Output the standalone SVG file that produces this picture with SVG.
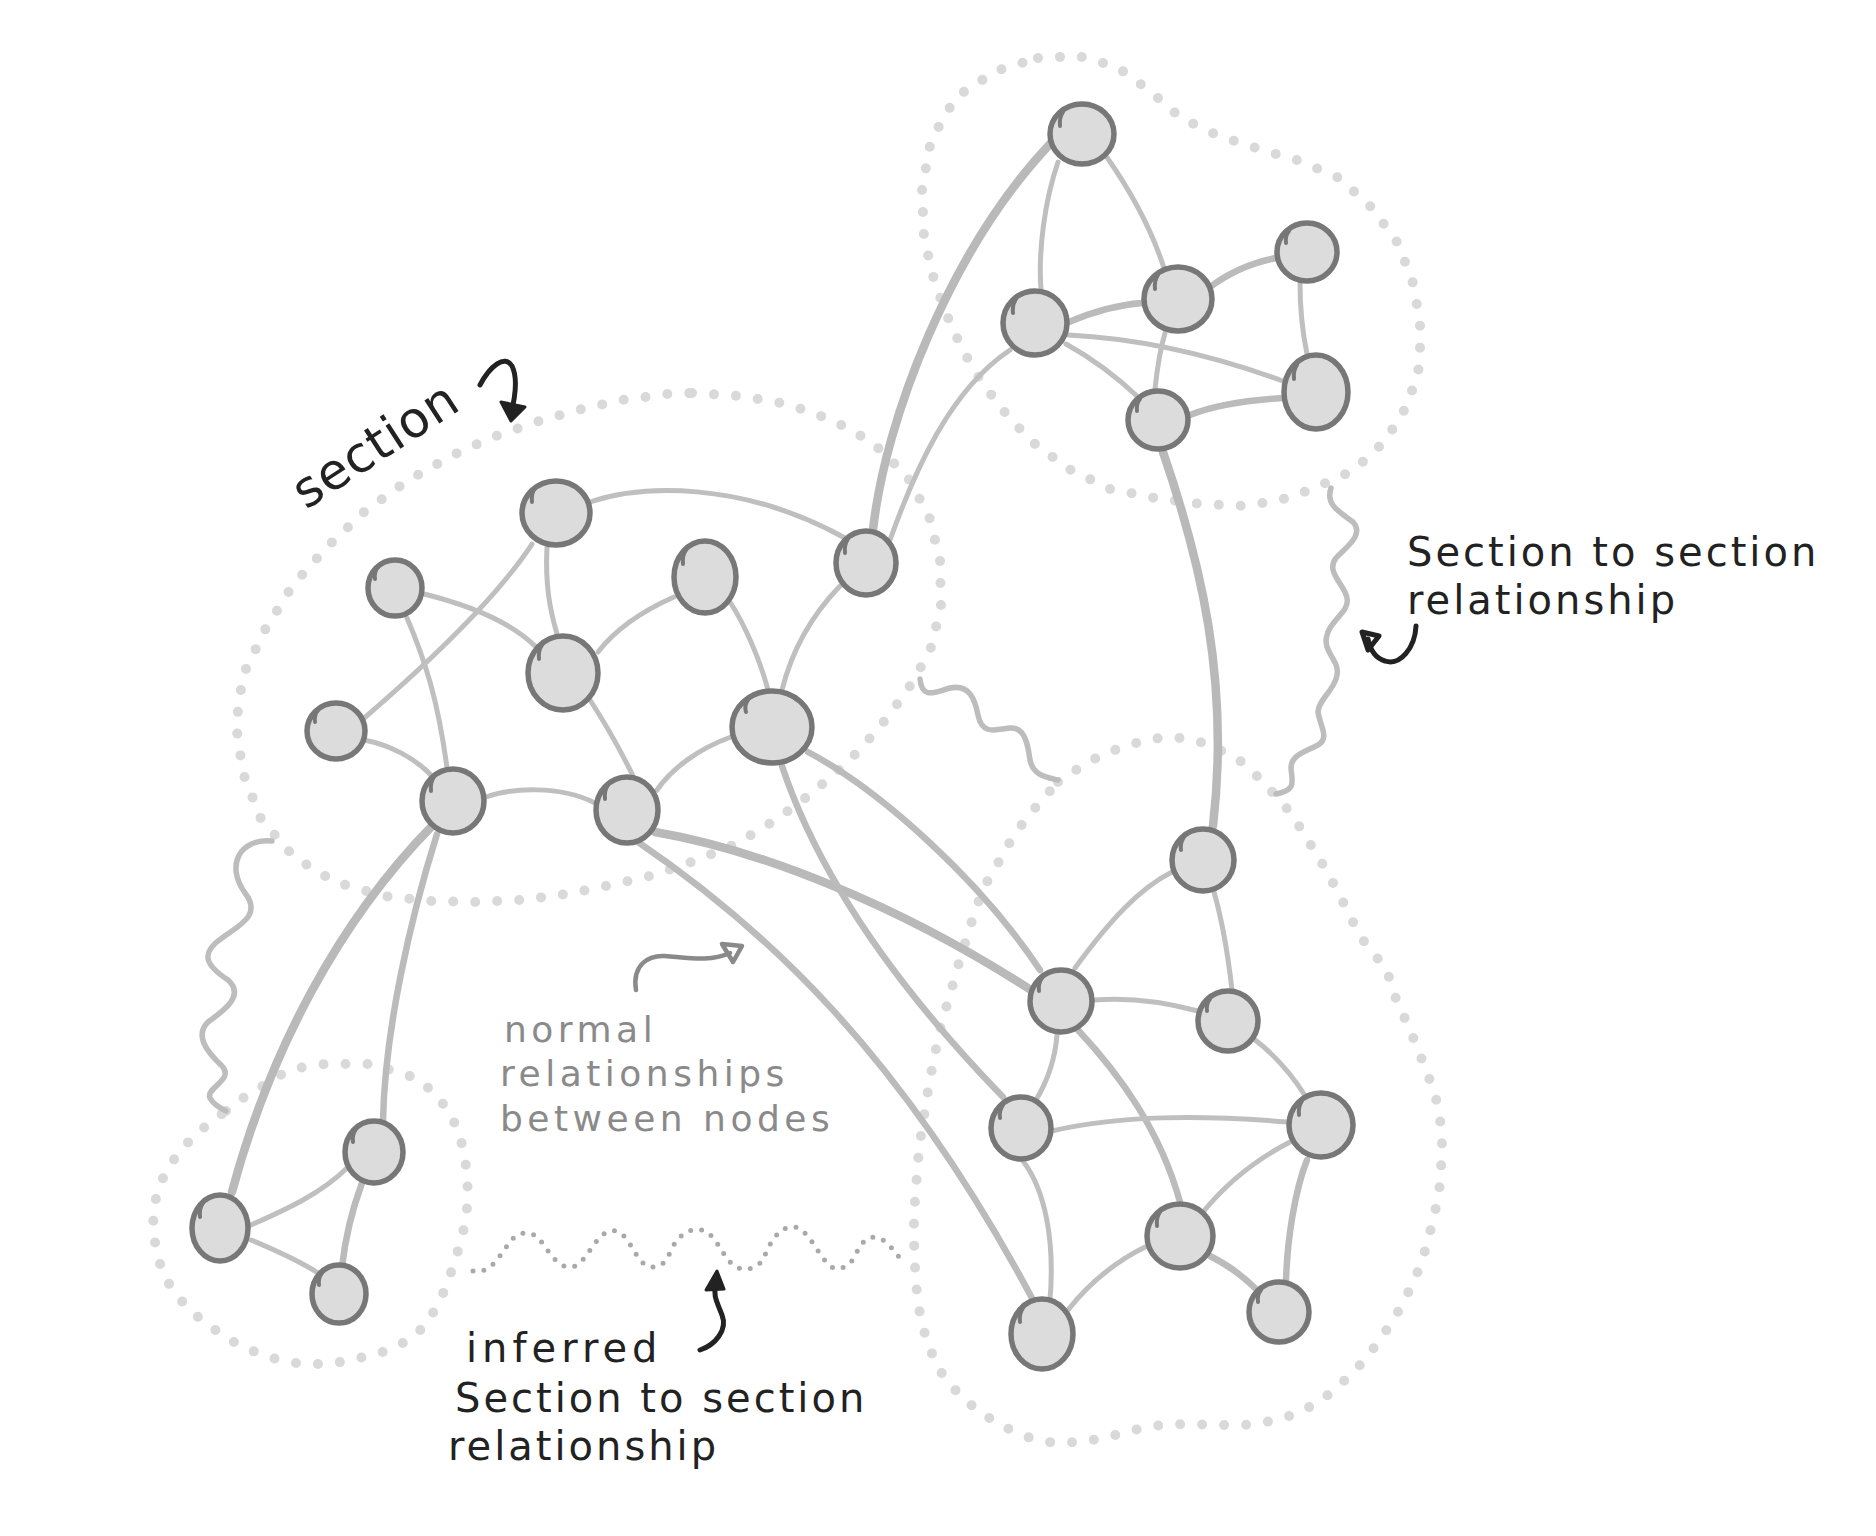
<svg xmlns="http://www.w3.org/2000/svg" width="1876" height="1536" viewBox="0 0 1876 1536">
<style>
.sec{fill:none;stroke:#d9d9d9;stroke-width:10;stroke-linecap:round;stroke-linejoin:round;stroke-dasharray:0 22}
.inf{fill:none;stroke:#a9a9a9;stroke-width:5;stroke-linecap:round;stroke-dasharray:0 11}
.wave{fill:none;stroke:#bdbdbd;stroke-width:5.5;stroke-linecap:round}
.e{fill:none;stroke:#bfbfbf;stroke-width:5;stroke-linecap:round}
.e2{fill:none;stroke:#bbbbbb;stroke-width:6.5;stroke-linecap:round}
.e3{fill:none;stroke:#b9b9b9;stroke-width:8.5;stroke-linecap:round}
.n ellipse{fill:#dcdcdc;stroke:#777777;stroke-width:5.5}
.n path{fill:none;stroke:#777777;stroke-width:4;stroke-linecap:round}
.lbl{font-family:"DejaVu Sans",sans-serif;fill:#222222}
.gl{font-family:"DejaVu Sans",sans-serif;fill:#8a8a8a;letter-spacing:4.5px}
.ar{fill:none;stroke:#222222;stroke-width:5;stroke-linecap:round;stroke-linejoin:round}
.ag{fill:none;stroke:#8a8a8a;stroke-width:4.5;stroke-linecap:round;stroke-linejoin:round}
</style>
<rect width="1876" height="1536" fill="#ffffff"/>

<g id="sections">
<polygon id="section-main" class="sec" points="692,393 740,396 787,404 832,420 872,442 907,476 929,516 940,560 941,607 930,651 907,691 879,728 848,762 812,793 777,819 738,843 697,860 654,875 611,885 567,894 521,900 475,902 430,901 384,896 335,882 294,857 261,819 243,773 236,725 243,675 266,628 293,585 327,547 364,512 407,481 453,455 493,437 536,422 578,410 622,400 668,394"/>
<polygon id="section-top" class="sec" points="1038,58 1078,56 1117,67 1150,91 1181,118 1219,136 1259,149 1300,161 1339,178 1370,206 1396,240 1412,279 1420,321 1420,364 1408,404 1385,441 1354,470 1333,480 1292,497 1248,506 1201,504 1155,498 1110,489 1069,469 1031,441 1000,407 973,369 952,328 935,284 924,238 922,189 931,140 956,97 996,71"/>
<polygon id="section-right" class="sec" points="1058,782 1079,768 1101,755 1126,746 1150,739 1174,737 1198,741 1222,751 1242,762 1259,778 1275,795 1289,811 1301,829 1312,847 1323,865 1333,883 1342,900 1351,918 1360,936 1372,952 1386,968 1397,1002 1407,1023 1417,1047 1426,1070 1435,1094 1440,1118 1442,1144 1441,1169 1439,1194 1433,1220 1427,1245 1418,1271 1407,1295 1394,1319 1379,1341 1363,1362 1344,1381 1323,1399 1299,1413 1272,1421 1245,1425 1217,1425 1189,1424 1161,1425 1134,1430 1108,1437 1081,1442 1054,1443 1027,1437 1002,1426 978,1411 957,1392 940,1371 929,1347 921,1321 917,1294 915,1267 914,1241 914,1214 916,1187 918,1161 921,1135 925,1110 929,1084 934,1059 939,1033 946,1008 953,984 960,959 968,934 975,911 984,887 997,865 1010,842 1025,820 1041,801"/>
<polygon id="section-left" class="sec" points="226,1111 243,1098 263,1086 282,1074 303,1067 326,1064 347,1064 368,1064 398,1072 418,1079 434,1093 448,1110 458,1130 464,1152 467,1174 468,1196 466,1219 461,1241 454,1263 447,1285 437,1306 425,1326 407,1341 386,1351 364,1357 341,1362 318,1364 294,1363 272,1358 250,1350 230,1340 211,1327 193,1313 178,1297 165,1278 158,1258 154,1237 153,1214 157,1193 165,1173 177,1155 191,1139 208,1124"/>
</g>

<g id="connectors">
<path class="wave" d="M272,841 C240,838 225,865 245,893 C262,915 240,925 222,938 C200,953 205,965 228,980 C245,995 225,1010 208,1022 C195,1035 205,1050 222,1066 C235,1080 205,1088 210,1098 C213,1104 220,1108 226,1111"/>
<path class="wave" d="M920,679 C922,700 935,692 950,688 C970,684 975,700 978,715 C982,735 995,730 1010,728 C1025,727 1028,745 1030,760 C1033,775 1045,777 1058,780"/>
<path class="wave" d="M1331,488 C1325,505 1340,512 1353,522 C1365,535 1345,548 1336,558 C1325,572 1345,585 1347,598 C1350,612 1330,620 1327,635 C1322,652 1340,660 1337,675 C1335,690 1318,700 1318,712 C1320,726 1330,738 1318,745 C1305,752 1291,755 1291,768 C1292,782 1297,790 1276,794"/>
<path class="inf" d="M473,1271 C490,1275 500,1255 507,1246 C515,1232 530,1228 540,1240 C550,1253 560,1272 575,1266 C588,1260 595,1235 610,1231 C625,1228 632,1250 640,1260 C650,1272 665,1268 670,1252 C678,1235 688,1228 702,1230 C715,1233 722,1255 732,1264 C742,1273 760,1270 765,1255 C772,1238 782,1225 795,1227 C808,1229 818,1255 830,1266 C840,1273 852,1265 857,1252 C862,1240 872,1233 883,1240 C890,1245 895,1252 899,1257"/>
<path class="e" d="M532,544 C505,585 455,640 363,719"/>
<path class="e" d="M547,547 C545,585 550,610 557,634"/>
<path class="e" d="M590,502 C640,485 740,480 845,538"/>
<path class="e" d="M424,594 C460,603 510,620 537,648"/>
<path class="e" d="M407,618 C425,660 438,700 447,768"/>
<path class="e" d="M364,740 C390,745 415,758 432,776"/>
<path class="e" d="M598,652 C615,630 640,612 674,597"/>
<path class="e" d="M590,700 C603,720 618,745 633,776"/>
<path class="e" d="M486,797 C510,788 560,785 595,803"/>
<path class="e" d="M657,790 C672,768 700,748 731,737"/>
<path class="e" d="M730,602 C745,625 760,660 768,690"/>
<path class="e" d="M782,690 C792,650 812,615 840,586"/>
<path class="e3" d="M873,530 C885,420 950,250 1050,144"/>
<path class="e" d="M890,540 C915,470 950,390 1010,350"/>
<path class="e" d="M1058,162 C1045,200 1038,250 1041,290"/>
<path class="e" d="M1106,156 C1130,190 1150,225 1164,268"/>
<path class="e2" d="M1069,322 C1090,313 1115,305 1142,303"/>
<path class="e" d="M1068,335 C1130,338 1200,350 1288,383"/>
<path class="e" d="M1066,344 C1095,360 1120,380 1138,397"/>
<path class="e2" d="M1210,287 C1230,272 1250,263 1276,258"/>
<path class="e" d="M1165,333 C1160,350 1157,370 1155,389"/>
<path class="e" d="M1300,283 C1300,305 1302,330 1307,354"/>
<path class="e2" d="M1190,415 C1215,405 1250,400 1283,398"/>
<path class="e3" d="M1163,452 C1200,560 1230,680 1213,826"/>
<path class="e" d="M1172,872 C1140,888 1110,920 1075,968"/>
<path class="e" d="M1214,892 C1222,920 1228,955 1232,990"/>
<path class="e" d="M1094,1000 C1130,997 1165,1002 1198,1011"/>
<path class="e" d="M1057,1035 C1055,1060 1048,1080 1036,1100"/>
<path class="e2" d="M1078,1030 C1120,1075 1160,1130 1180,1202"/>
<path class="e" d="M1254,1039 C1275,1055 1292,1075 1306,1097"/>
<path class="e" d="M1052,1131 C1120,1115 1200,1115 1288,1122"/>
<path class="e" d="M1023,1161 C1045,1190 1055,1240 1050,1300"/>
<path class="e" d="M1290,1142 C1255,1160 1225,1185 1203,1212"/>
<path class="e2" d="M1307,1160 C1295,1190 1287,1240 1286,1282"/>
<path class="e" d="M1145,1247 C1115,1262 1090,1282 1068,1310"/>
<path class="e2" d="M1210,1256 C1228,1265 1242,1275 1257,1290"/>
<path class="e3" d="M655,832 C760,850 900,905 1034,992"/>
<path class="e2" d="M638,842 C760,925 900,1050 1033,1300"/>
<path class="e2" d="M782,766 C810,850 870,960 1003,1097"/>
<path class="e2" d="M808,752 C880,790 980,880 1040,970"/>
<path class="e3" d="M432,826 C340,920 270,1050 232,1192"/>
<path class="e2" d="M437,834 C410,920 385,1030 383,1120"/>
<path class="e" d="M251,1225 C280,1212 320,1195 347,1168"/>
<path class="e" d="M251,1240 C275,1250 298,1260 318,1273"/>
<path class="e2" d="M362,1183 C352,1210 345,1240 342,1267"/>
</g>

<g id="node-A" class="n"><ellipse cx="556" cy="513" rx="34" ry="32"/><path d="M535,488 q-4,6 -3,14"/></g>
<g id="node-B" class="n"><ellipse cx="395" cy="588" rx="27" ry="28"/><path d="M378,567 q-4,5 -3,12"/></g>
<g id="node-C" class="n"><ellipse cx="336" cy="731" rx="29" ry="28"/><path d="M318,710 q-4,5 -3,12"/></g>
<g id="node-D" class="n"><ellipse cx="453" cy="801" rx="31" ry="32"/><path d="M434,777 q-4,6 -3,14"/></g>
<g id="node-E" class="n"><ellipse cx="563" cy="673" rx="35" ry="37"/><path d="M542,645 q-4,6 -3,14"/></g>
<g id="node-F" class="n"><ellipse cx="627" cy="810" rx="31" ry="33"/><path d="M608,785 q-4,6 -3,14"/></g>
<g id="node-G" class="n"><ellipse cx="705" cy="577" rx="31" ry="36"/><path d="M686,550 q-4,6 -3,14"/></g>
<g id="node-H" class="n"><ellipse cx="772" cy="727" rx="40" ry="36"/><path d="M748,700 q-4,5 -2,12"/></g>
<g id="node-I" class="n"><ellipse cx="866" cy="563" rx="30" ry="32"/><path d="M848,539 q-4,6 -3,14"/></g>
<g id="node-T" class="n"><ellipse cx="1082" cy="134" rx="32" ry="30"/><path d="M1063,112 q-4,6 -3,14"/></g>
<g id="node-J" class="n"><ellipse cx="1035" cy="323" rx="32" ry="32"/><path d="M1016,299 q-4,6 -3,14"/></g>
<g id="node-K" class="n"><ellipse cx="1178" cy="299" rx="34" ry="32"/><path d="M1158,275 q-4,6 -3,14"/></g>
<g id="node-L" class="n"><ellipse cx="1307" cy="252" rx="30" ry="29"/><path d="M1289,231 q-4,5 -3,12"/></g>
<g id="node-M" class="n"><ellipse cx="1316" cy="392" rx="32" ry="37"/><path d="M1297,365 q-4,6 -3,14"/></g>
<g id="node-N" class="n"><ellipse cx="1158" cy="420" rx="30" ry="29"/><path d="M1140,399 q-4,5 -3,12"/></g>
<g id="node-O" class="n"><ellipse cx="1203" cy="860" rx="31" ry="31"/><path d="M1184,837 q-4,6 -3,13"/></g>
<g id="node-P" class="n"><ellipse cx="1061" cy="1001" rx="31" ry="31"/><path d="M1042,978 q-4,6 -3,13"/></g>
<g id="node-Q" class="n"><ellipse cx="1228" cy="1021" rx="30" ry="30"/><path d="M1210,999 q-4,5 -3,12"/></g>
<g id="node-R" class="n"><ellipse cx="1021" cy="1128" rx="30" ry="31"/><path d="M1003,1105 q-4,6 -3,13"/></g>
<g id="node-S" class="n"><ellipse cx="1321" cy="1125" rx="32" ry="32"/><path d="M1302,1101 q-4,6 -3,14"/></g>
<g id="node-U" class="n"><ellipse cx="1180" cy="1236" rx="33" ry="32"/><path d="M1160,1212 q-4,6 -3,14"/></g>
<g id="node-V" class="n"><ellipse cx="1042" cy="1334" rx="31" ry="35"/><path d="M1023,1308 q-4,6 -3,14"/></g>
<g id="node-W" class="n"><ellipse cx="1279" cy="1312" rx="30" ry="30"/><path d="M1261,1290 q-4,5 -3,12"/></g>
<g id="node-X" class="n"><ellipse cx="374" cy="1152" rx="29" ry="31"/><path d="M356,1129 q-4,6 -3,13"/></g>
<g id="node-Y" class="n"><ellipse cx="220" cy="1228" rx="28" ry="33"/><path d="M203,1203 q-4,6 -3,14"/></g>
<g id="node-Z" class="n"><ellipse cx="339" cy="1294" rx="27" ry="29"/><path d="M322,1273 q-4,5 -3,12"/></g>

<g id="label-section">
<text class="lbl" x="0" y="0" font-size="50" letter-spacing="1" transform="translate(306,510) rotate(-33)">section</text>
<path class="ar" d="M480,385 C490,366 505,354 512,366 C518,378 515,398 511,414"/>
<polygon points="501,402 525,407 511,421" fill="#222222" stroke="#222222" stroke-width="3" stroke-linejoin="round"/>
</g>

<g id="label-s2s">
<text class="lbl" font-size="40" letter-spacing="3"><tspan x="1407" y="566">Section to section</tspan><tspan x="1407" y="614">relationship</tspan></text>
<path class="ar" d="M1416,626 C1415,648 1400,666 1385,661 C1375,658 1370,649 1368,639"/>
<polygon class="ar" points="1362,632 1379,636 1368,650"/>
</g>

<g id="label-normal">
<text class="gl" font-size="36"><tspan x="504" y="1042">normal</tspan><tspan x="500" y="1086">relationships</tspan><tspan x="500" y="1131">between nodes</tspan></text>
<path class="ag" d="M636,990 C632,965 648,955 665,956 C690,958 710,962 730,953"/>
<polygon class="ag" points="722,944 742,946 733,962"/>
</g>

<g id="label-inferred">
<text class="lbl" font-size="40" letter-spacing="3"><tspan x="466" y="1362" letter-spacing="5">inferred</tspan><tspan x="455" y="1412">Section to section</tspan><tspan x="448" y="1460">relationship</tspan></text>
<path class="ar" d="M700,1350 C715,1345 728,1330 722,1315 C716,1300 713,1295 716,1285"/>
<polygon points="706,1290 717,1271 724,1289" fill="#222222" stroke="#222222" stroke-width="3" stroke-linejoin="round"/>
</g>
</svg>
